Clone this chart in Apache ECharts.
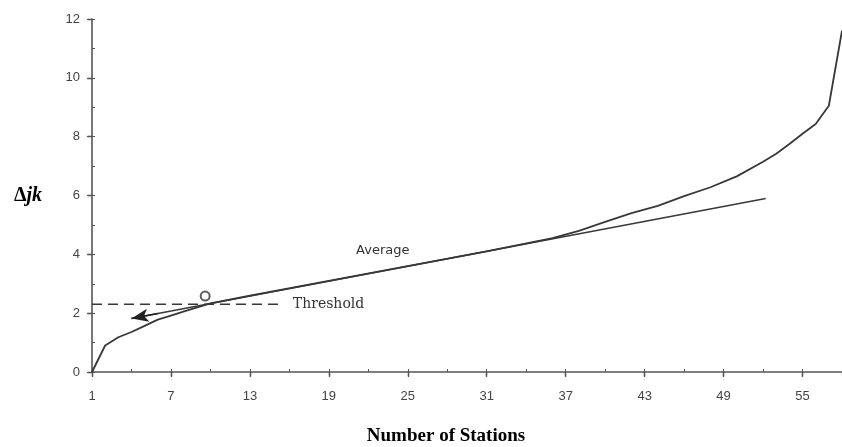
<!DOCTYPE html>
<html><head><meta charset="utf-8">
<script src="https://cdn.jsdelivr.net/npm/echarts@6/dist/echarts.min.js"></script>
<style>html,body{margin:0;padding:0;background:#fff}#c{width:842px;height:447px}</style>
</head><body><div id="c"></div>
<script>
// ---- data ----
const stationNums   = [1, 2, 3, 4, 5, 6, 7, 8, 9, 10, 13, 19, 25, 31, 36, 38, 40, 42, 44, 46, 48, 50, 52, 53, 54, 55, 56, 57, 58];
const deltaValues   = [0, 0.9, 1.18, 1.36, 1.57, 1.78, 1.92, 2.06, 2.2, 2.33, 2.6, 3.1, 3.6, 4.1, 4.55, 4.8, 5.1, 5.4, 5.65, 5.98, 6.28, 6.65, 7.15, 7.42, 7.75, 8.1, 8.43, 9.05, 11.6];
const averageStations = [4, 52.2];
const averageValues   = [1.82, 5.9];
const thresholdStations = [1, 15.2];
const thresholdValues   = [2.3, 2.3];
const markerStations = [9.6];
const markerValues   = [2.58];
const xTickLabels = [1, 7, 13, 19, 25, 31, 37, 43, 49, 55];
const yTickLabels = [0, 2, 4, 6, 8, 10, 12];

const FIRST = 1;                    // first station sits on the y axis
const toX = s => s - FIRST;
const pairs = (xs, ys) => xs.map((s, i) => [toX(s), ys[i]]);

const axisColor = '#555';
const labelFont = {color: '#444', fontFamily: 'Liberation Sans', fontSize: 13};

function xAx(interval, opts) {
  return Object.assign({
    type: 'value', min: 0, max: 57, interval: interval,
    splitLine: {show: false},
    axisLine: {show: false},
    axisLabel: {show: false},
    axisTick: {show: true, length: 4, lineStyle: {color: axisColor, width: 1.3}}
  }, opts);
}
function yAx(interval, opts) {
  return Object.assign({
    type: 'value', min: 0, max: 12, interval: interval,
    splitLine: {show: false},
    axisLine: {show: false},
    axisLabel: {show: false},
    axisTick: {show: true, length: 4, lineStyle: {color: axisColor, width: 1.3}}
  }, opts);
}

const chart = echarts.init(document.getElementById('c'), null, {renderer: 'canvas'});
chart.setOption({
  backgroundColor: '#fff',
  animation: false,
  grid: {left: 92, right: 0, top: 19, bottom: 75, containLabel: false, outerBoundsMode: 'none'},
  xAxis: [
    xAx(6, {
      axisLine: {show: true, onZero: false, lineStyle: {color: axisColor, width: 1.6}},
      axisTick: {show: true, length: 5, lineStyle: {color: axisColor, width: 1.3}},
      axisLabel: Object.assign({show: true, margin: 18, showMaxLabel: false,
        formatter: v => xTickLabels.includes(v + FIRST) ? String(v + FIRST) : ''}, labelFont),
      name: 'Number of Stations', nameLocation: 'middle', nameGap: 55,
      nameTextStyle: {fontFamily: 'Liberation Serif', fontWeight: 'bold', fontSize: 19, color: '#000', padding: [0, 42, 0, 0]}
    }),
    xAx(6, {axisTick: {show: true, inside: true, length: 4, lineStyle: {color: axisColor, width: 1.3}}}),
    xAx(3, {axisTick: {show: true, length: 3, lineStyle: {color: axisColor, width: 1}}})
  ],
  yAxis: [
    yAx(2, {
      axisLine: {show: true, onZero: false, lineStyle: {color: axisColor, width: 1.6}},
      axisTick: {show: true, length: 5, lineStyle: {color: axisColor, width: 1.3}},
      axisLabel: Object.assign({show: true, margin: 12,
        formatter: v => yTickLabels.includes(v) ? String(v) : ''}, labelFont),
      name: '{d|Δ}{i|jk}', nameLocation: 'middle', nameRotate: 0, nameGap: 50,
      nameTextStyle: {fontFamily: 'Liberation Serif', fontWeight: 'bold', fontSize: 20, color: '#000',
        rich: {
          d: {fontFamily: 'Liberation Serif', fontWeight: 'bold', fontSize: 20, color: '#000'},
          i: {fontFamily: 'Liberation Serif', fontWeight: 'bold', fontStyle: 'italic', fontSize: 20, color: '#000'}
        }}
    }),
    yAx(2, {axisTick: {show: true, inside: true, length: 4, lineStyle: {color: axisColor, width: 1.3}}}),
    yAx(1, {axisTick: {show: true, length: 3, lineStyle: {color: axisColor, width: 1}}})
  ],
  series: [
    {
      name: 'Δjk', type: 'line', xAxisIndex: 0, yAxisIndex: 0,
      data: pairs(stationNums, deltaValues),
      symbol: 'none', smooth: false,
      lineStyle: {color: '#383838', width: 1.8}
    },
    {
      name: 'Average', type: 'line', xAxisIndex: 0, yAxisIndex: 0,
      data: pairs(averageStations, averageValues),
      symbol: 'none',
      lineStyle: {color: '#383838', width: 1.5},
      markLine: {
        silent: true, animation: false,
        symbol: ['arrow', 'none'], symbolSize: [10, 17],
        lineStyle: {type: 'solid', color: '#222', width: 1.5},
        label: {show: false},
        data: [[
          {coord: [toX(averageStations[0]), averageValues[0]]},
          {coord: [toX(averageStations[0]) + 2,
                   averageValues[0] + 2 * (averageValues[1] - averageValues[0]) / (averageStations[1] - averageStations[0])]}
        ]]
      },
      markPoint: {
        silent: true, symbol: 'circle', symbolSize: 0,
        label: {show: true, position: 'inside', formatter: 'Average', color: '#333', fontFamily: 'DejaVu Sans', fontSize: 13},
        data: [{coord: [toX(23.1), 4.11]}]
      }
    },
    {
      name: 'Threshold', type: 'line', xAxisIndex: 0, yAxisIndex: 0,
      data: pairs(thresholdStations, thresholdValues),
      symbol: 'none',
      lineStyle: {color: '#383838', width: 1.5, type: [10, 6]},
      endLabel: {show: true, formatter: 'Threshold', distance: 14, color: '#333', fontFamily: 'DejaVu Serif', fontSize: 14}
    },
    {
      name: 'marker', type: 'scatter', xAxisIndex: 0, yAxisIndex: 0, z: 5,
      data: pairs(markerStations, markerValues),
      symbol: 'emptyCircle', symbolSize: 9,
      itemStyle: {color: '#333', borderColor: '#333', borderWidth: 1.4}
    }
  ]
});
</script></body></html>
